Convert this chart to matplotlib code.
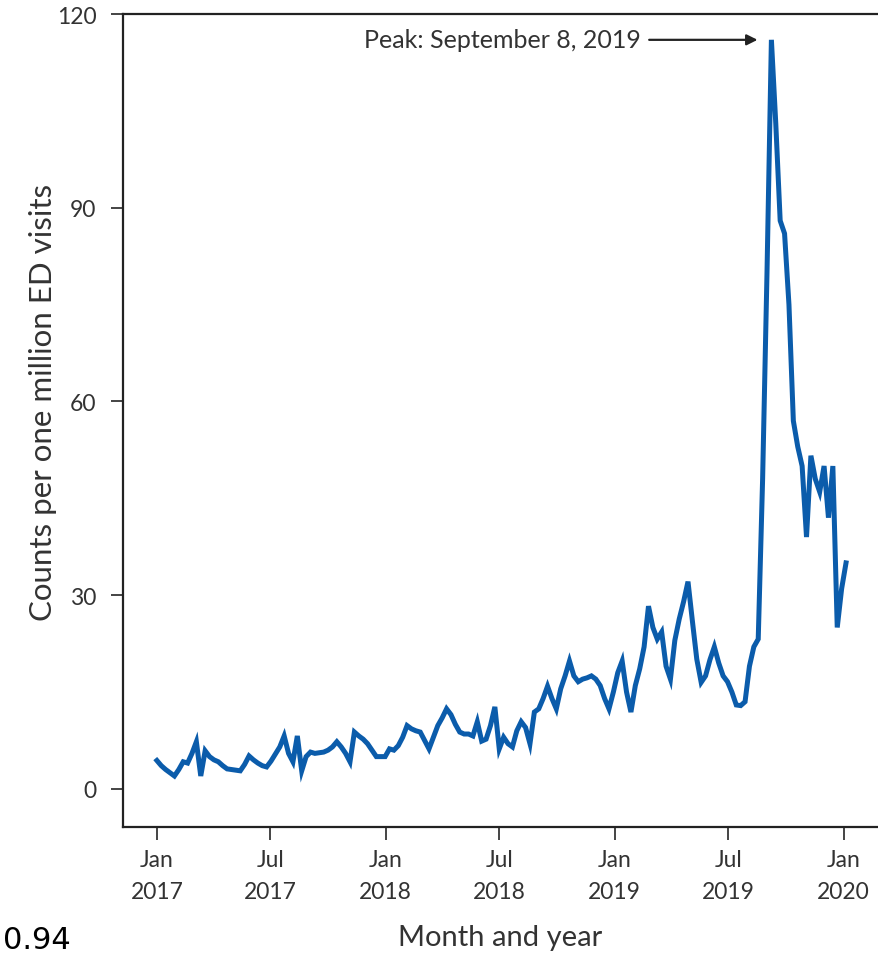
import numpy as np
import pandas as pd
import matplotlib
matplotlib.use("Agg")
import matplotlib.pyplot as plt
import matplotlib.dates as mdates

# Weekly counts per one million ED visits (week starting Sundays)
start_date = "2017-01-01"
values_2017 = [4.4, 3.6, 3.0, 2.5, 2.0, 3.0, 4.2, 4.0, 5.5, 7.3, 2.0, 5.9, 5.0,
               4.5, 4.2, 3.6, 3.1, 3.0, 2.9, 2.8, 3.8, 5.1, 4.5, 4.0, 3.6, 3.4,
               4.3, 5.4, 6.5, 8.2, 5.5, 4.2, 8.2, 2.8, 5.0, 5.7, 5.5, 5.6, 5.7,
               6.0, 6.5, 7.3, 6.5, 5.5, 4.2, 8.8, 8.2, 7.7, 7.0, 6.0, 5.0, 5.0]
values_2018 = [5.0, 6.2, 6.0, 6.7, 8.0, 9.8, 9.3, 9.0, 8.8, 7.5, 6.2, 8.0, 9.8,
               11.0, 12.4, 11.5, 10.0, 8.8, 8.5, 8.5, 8.2, 10.4, 7.4, 7.7, 9.8, 12.7,
               6.2, 8.0, 7.0, 6.5, 9.0, 10.4, 9.5, 7.0, 11.9, 12.4, 14.0, 15.9, 14.0,
               12.4, 15.5, 17.5, 19.8, 17.5, 16.6, 17.0, 17.2, 17.5, 17.0, 16.0, 14.0, 12.4]
values_2019 = [15.0, 18.0, 19.8, 15.0, 11.9, 16.0, 18.6, 22.0, 28.3, 25.0, 23.2, 24.3, 19.0,
               17.0, 23.0, 26.3, 29.0, 32.1, 26.0, 20.1, 16.5, 17.5, 20.0, 22.0, 19.5, 17.5,
               16.6, 15.0, 13.0, 12.9, 13.5, 19.0, 22.0, 23.2, 48.0, 80.0, 116.0, 103.0, 88.0,
               86.0, 75.0, 57.0, 53.0, 50.0, 39.0, 51.6, 48.0, 46.0, 50.0, 42.0, 50.0, 25.0,
               31.0, 35.0]
values = values_2017 + values_2018 + values_2019
dates = pd.date_range(start_date, periods=len(values), freq="7D")

y_ticks = [0, 30, 60, 90, 120]
x_tick_dates = ["2017-01-01", "2017-07-01", "2018-01-01", "2018-07-01",
                "2019-01-01", "2019-07-01", "2020-01-01"]
x_tick_labels = ["Jan\n2017", "Jul\n2017", "Jan\n2018", "Jul\n2018",
                 "Jan\n2019", "Jul\n2019", "Jan\n2020"]
peak_date = pd.Timestamp("2019-09-08")
peak_value = 116.0
peak_label = "Peak: September 8, 2019"

plt.rcParams["font.family"] = ["Lato", "DejaVu Sans"]

W, H = 879, 954
fig = plt.figure(figsize=(W / 100, H / 100), dpi=100)
ax = fig.add_axes([123 / W, 1 - 828 / H, (878 - 123) / W, (828 - 15) / H])

line_color = "#0b5cab"
ax.plot(dates, values, color=line_color, lw=3.6, solid_joinstyle="miter")

ax.set_ylim(-5.9, 120)
ax.set_xlim(pd.Timestamp("2016-11-08"), pd.Timestamp("2020-02-25"))
ax.set_yticks(y_ticks)
ax.set_xticks([pd.Timestamp(d) for d in x_tick_dates])
ax.set_xticklabels(x_tick_labels, linespacing=1.65)

for s in ["left", "bottom", "top"]:
    ax.spines[s].set_linewidth(1.6)
    ax.spines[s].set_color("#222222")
ax.spines["right"].set_visible(False)

ax.tick_params(axis="both", length=9, width=1.4, color="#444444",
               labelsize=16.5, labelcolor="#333333")
ax.tick_params(axis="x", pad=7)
ax.tick_params(axis="y", pad=10)

ax.set_ylabel("Counts per one million ED visits", fontsize=22.5, color="#333333")
ax.yaxis.set_label_coords(-0.087, 0.524)
ax.set_xlabel("Month and year", fontsize=21, color="#333333", labelpad=16)

ax.annotate(peak_label, xy=(peak_date, peak_value), xytext=(-94, 0),
            textcoords="offset points", ha="right", va="center",
            fontsize=18, color="#333333",
            arrowprops=dict(arrowstyle="-|>", color="#222222", lw=1.6,
                            shrinkA=4, shrinkB=10, mutation_scale=16))

fig.text(3 / W, 5 / H, "0.94", fontsize=22, family="DejaVu Sans", va="baseline", ha="left")

fig.savefig("out.png", dpi=100, facecolor="white")
